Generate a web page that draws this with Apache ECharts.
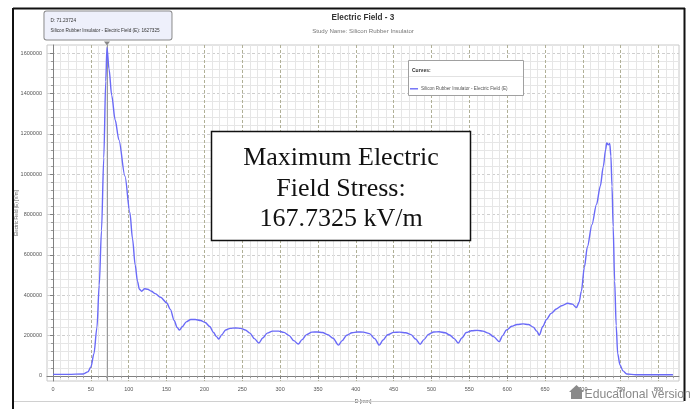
<!DOCTYPE html>
<html>
<head>
<meta charset="utf-8">
<script src="https://cdn.jsdelivr.net/npm/echarts@6/dist/echarts.min.js"></script>
<style>
html,body{margin:0;padding:0;background:#fff;}
#chart{width:690px;height:409px;}
</style>
</head>
<body>
<div id="chart"></div>
<script>
// ---- data ----
const seriesName = 'Silicon Rubber Insulator - Electric Field (E)';
const distances = [
  0, 20, 40, 46, 50, 54, 58, 61, 64, 67, 69.6, 71.23724,
  74, 77.5, 82, 87, 95, 101.5, 105, 108.5, 111.5, 114, 117, 121,
  125, 130, 135, 142, 150, 155, 160, 164, 167, 171, 176, 182,
  188, 195, 201, 207, 212, 216, 219, 223, 228, 234, 241, 248,
  254, 260, 266, 272, 277, 283, 290, 298, 305, 312, 318, 324,
  329, 335, 342, 349, 356, 363, 370, 377, 382, 388, 395, 402,
  410, 418, 425, 431, 436, 442, 450, 458, 466, 473, 479, 485,
  490, 496, 503, 510, 518, 524, 530, 535.5, 540, 546, 553, 561,
  568, 575, 582, 589.5, 594, 599, 606, 613, 621, 628, 634.5, 639,
  642.5, 647, 652, 658, 665, 672, 680, 686, 691.5, 695, 698, 702,
  706, 712, 718, 723, 727, 730, 731.5, 733.5, 735.5, 737, 738.5, 740,
  742, 744, 746, 749, 753, 758, 770, 800, 819
];
const fieldValues = [
  8000, 8000, 10000, 20000, 45000, 110000, 240000, 450000, 720000, 1080000, 1460000, 1627325,
  1520000, 1390000, 1270000, 1170000, 990000, 810000, 680000, 550000, 470000, 430000, 420000, 432000,
  430000, 420000, 408000, 390000, 363000, 330000, 275000, 240000, 227000, 245000, 268000, 280000,
  280000, 275000, 265000, 245000, 215000, 195000, 183000, 205000, 228000, 236000, 238000, 236000,
  228000, 212000, 185000, 163000, 188000, 212000, 222000, 222000, 216000, 200000, 175000, 158000,
  180000, 205000, 217000, 218000, 215000, 205000, 187000, 153000, 175000, 202000, 214000, 218000,
  217000, 210000, 185000, 153000, 178000, 204000, 216000, 217000, 214000, 205000, 183000, 157000,
  180000, 206000, 218000, 219000, 214000, 203000, 185000, 163000, 188000, 215000, 224000, 226000,
  222000, 212000, 195000, 170000, 200000, 228000, 246000, 255000, 258000, 255000, 242000, 222000,
  203000, 245000, 280000, 310000, 332000, 348000, 360000, 356000, 339000, 365000, 420000, 540000,
  640000, 750000, 850000, 940000, 1038000, 1120000, 1155000, 1145000, 1152000, 1090000, 940000, 740000,
  470000, 250000, 110000, 55000, 25000, 10000, 6000, 6000, 6000
];
const peakD = 71.23724;
const peakE = 1627325;

const xTickValues = [0, 50, 100, 150, 200, 250, 300, 350, 400, 450, 500, 550, 600, 650, 700, 750, 800];
const xTickLabels = ['0','50','100','150','200','250','300','350','400','450','500','550','600','650','700','750','800'];
const yTickValues = [0, 200000, 400000, 600000, 800000, 1000000, 1200000, 1400000, 1600000];
const yTickLabels = ['0','200000','400000','600000','800000','1000000','1200000','1400000','1600000'];
const xMinorValues = [];
for (let v = 10; v <= 820; v += 10) if (v % 50 !== 0) xMinorValues.push(v);
const yMinorValues = [];
for (let v = 40000; v < 1640000; v += 40000) if (v % 200000 !== 0) yMinorValues.push(v);

// ---- chart ----
const chart = echarts.init(document.getElementById('chart'));
const font = 'Liberation Sans';
const xMin = -8, xMax = 827, yMin = -25000, yMax = 1640000;

const option = {
  animation: false,
  backgroundColor: '#ffffff',
  textStyle: { fontFamily: font },
  grid: {
    left: 47, right: 11, top: 45, bottom: 27,
    show: true, borderColor: '#c8c8c8', borderWidth: 1, backgroundColor: '#ffffff'
  },
  legend: {
    data: [{ name: seriesName, icon: 'rect' }],
    left: 410, top: 86.3, padding: 0, z: 80,
    itemWidth: 8, itemHeight: 1.4, itemGap: 4,
    textStyle: { fontSize: 4.6, color: '#555', fontFamily: font, padding: [0, 0, 0, -2] }
  },
  xAxis: [
    {
      type: 'value', min: xMin, max: xMax,
      name: 'D [mm]', nameLocation: 'middle', nameGap: 18, nameMoveOverlap: false,
      nameTextStyle: { fontSize: 5.2, color: '#555' },
      axisLine: { show: true, lineStyle: { color: '#808080', width: 1 } },
      axisTick: { show: true, customValues: xTickValues, length: 3, lineStyle: { color: '#808080' } },
      axisLabel: {
        show: true, customValues: xTickValues, fontSize: 5.5, color: '#555', margin: 5,
        formatter: v => xTickLabels[xTickValues.indexOf(v)]
      },
      splitLine: { show: true, lineStyle: { color: '#b0b096', type: [3, 2], width: 1 } }
    },
    {
      type: 'value', min: xMin, max: xMax, position: 'bottom',
      axisLine: { show: false },
      axisTick: { show: true, customValues: xMinorValues, length: 2, lineStyle: { color: '#999' } },
      axisLabel: { show: false },
      splitLine: { show: true, lineStyle: { color: '#e6e6e6', type: 'solid', width: 1 } }
    }
  ],
  yAxis: [
    {
      type: 'value', min: yMin, max: yMax,
      name: 'Electric Field (E) [V/m]', nameLocation: 'middle', nameGap: 28, nameMoveOverlap: false,
      nameTextStyle: { fontSize: 4.6, color: '#666' },
      axisLine: { show: true, lineStyle: { color: '#808080', width: 1 } },
      axisTick: { show: true, customValues: yTickValues, length: 3, lineStyle: { color: '#808080' } },
      axisLabel: {
        show: true, customValues: yTickValues, fontSize: 5.5, color: '#555', margin: 5,
        formatter: v => yTickLabels[yTickValues.indexOf(v)]
      },
      splitLine: { show: true, lineStyle: { color: '#cfcfcf', type: [3, 2], width: 1 } }
    },
    {
      type: 'value', min: yMin, max: yMax, position: 'left',
      axisLine: { show: false },
      axisTick: { show: true, customValues: yMinorValues, length: 2, lineStyle: { color: '#999' } },
      axisLabel: { show: false },
      splitLine: { show: true, lineStyle: { color: '#e6e6e6', type: 'solid', width: 1 } }
    }
  ],
  series: [
    {
      name: seriesName,
      type: 'line',
      xAxisIndex: 0, yAxisIndex: 0,
      data: distances.map((d, i) => [d, fieldValues[i]]),
      symbol: 'none',
      smooth: 0.3,
      smoothMonotone: 'x',
      lineStyle: { color: '#6a6af7', width: 1.4 },
      itemStyle: { color: '#6a6af7' },
      z: 5,
      markLine: {
        silent: true, symbol: ['none', 'none'],
        label: { show: false },
        lineStyle: { color: '#9a9a9a', type: 'solid', width: 1 },
        data: [{ xAxis: peakD }]
      },
      markPoint: {
        silent: true,
        symbol: 'path://M0,0L10,0L5,6Z',
        symbolSize: [6, 4],
        symbolOffset: [0, -4],
        itemStyle: { color: '#888' },
        data: [{
          coord: [peakD, peakE],
          label: {
            show: true, position: 'top', distance: 2, offset: [-62.5, 0],
            formatter: 'D: ' + peakD + '\n' + seriesName + ': ' + peakE,
            fontSize: 4.7, lineHeight: 10, color: '#333', fontFamily: font,
            align: 'left', width: 115,
            backgroundColor: '#eef0fb', borderColor: '#8a8a8a', borderWidth: 1, borderRadius: 2,
            padding: [4, 6, 4, 6]
          }
        }]
      }
    }
  ],
  graphic: [
    // outer frame
    { type: 'line', shape: { x1: 13, y1: 8.5, x2: 685, y2: 8.5 }, style: { stroke: '#111', lineWidth: 2 }, z: 100 },
    { type: 'line', shape: { x1: 13, y1: 8, x2: 13, y2: 409 }, style: { stroke: '#111', lineWidth: 2 }, z: 100 },
    { type: 'line', shape: { x1: 684.5, y1: 8, x2: 684.5, y2: 401 }, style: { stroke: '#111', lineWidth: 2 }, z: 100 },
    { type: 'line', shape: { x1: 14, y1: 401.5, x2: 684, y2: 401.5 }, style: { stroke: '#d0d0d0', lineWidth: 1 }, z: 100 },
    // title
    { type: 'text', x: 363, y: 17.5, style: { text: 'Electric Field - 3', font: 'bold 8.2px ' + font, fill: '#333', textAlign: 'center', textVerticalAlign: 'middle' }, z: 100 },
    { type: 'text', x: 363, y: 31, style: { text: 'Study Name: Silicon Rubber Insulator', font: '6.1px ' + font, fill: '#777', textAlign: 'center', textVerticalAlign: 'middle' }, z: 100 },
    // legend box
    { type: 'rect', shape: { x: 408.5, y: 60.5, width: 115, height: 35 }, style: { fill: '#ffffff', stroke: '#a0a0a0', lineWidth: 1 }, z: 50 },
    { type: 'line', shape: { x1: 409, y1: 76.5, x2: 523, y2: 76.5 }, style: { stroke: '#e2e2e2', lineWidth: 1 }, z: 51 },
    { type: 'text', x: 412, y: 71, style: { text: 'Curves:', font: 'bold 5px ' + font, fill: '#333', textVerticalAlign: 'middle' }, z: 51 },
    // annotation box
    { type: 'rect', shape: { x: 211.5, y: 131.5, width: 259, height: 109 }, style: { fill: '#ffffff', stroke: '#111', lineWidth: 1.5 }, z: 60 },
    { type: 'text', x: 341, y: 158, style: { text: 'Maximum Electric', font: '26px "Liberation Serif"', fill: '#111', textAlign: 'center', textVerticalAlign: 'middle' }, z: 61 },
    { type: 'text', x: 341, y: 189, style: { text: 'Field Stress:', font: '26px "Liberation Serif"', fill: '#111', textAlign: 'center', textVerticalAlign: 'middle' }, z: 61 },
    { type: 'text', x: 341, y: 219, style: { text: '167.7325 kV/m', font: '26px "Liberation Serif"', fill: '#111', textAlign: 'center', textVerticalAlign: 'middle' }, z: 61 },
    // watermark
    { type: 'polygon', shape: { points: [[569, 392], [576.5, 385], [584, 392]] }, style: { fill: '#8a8a8a' }, z: 110 },
    { type: 'rect', shape: { x: 571, y: 391, width: 11, height: 8 }, style: { fill: '#8a8a8a' }, z: 110 },
    { type: 'text', x: 584.5, y: 395, style: { text: 'Educational version', font: '12.2px ' + font, fill: '#8a8a8a', textVerticalAlign: 'middle' }, z: 110 }
  ]
};
chart.setOption(option);
</script>
</body>
</html>
